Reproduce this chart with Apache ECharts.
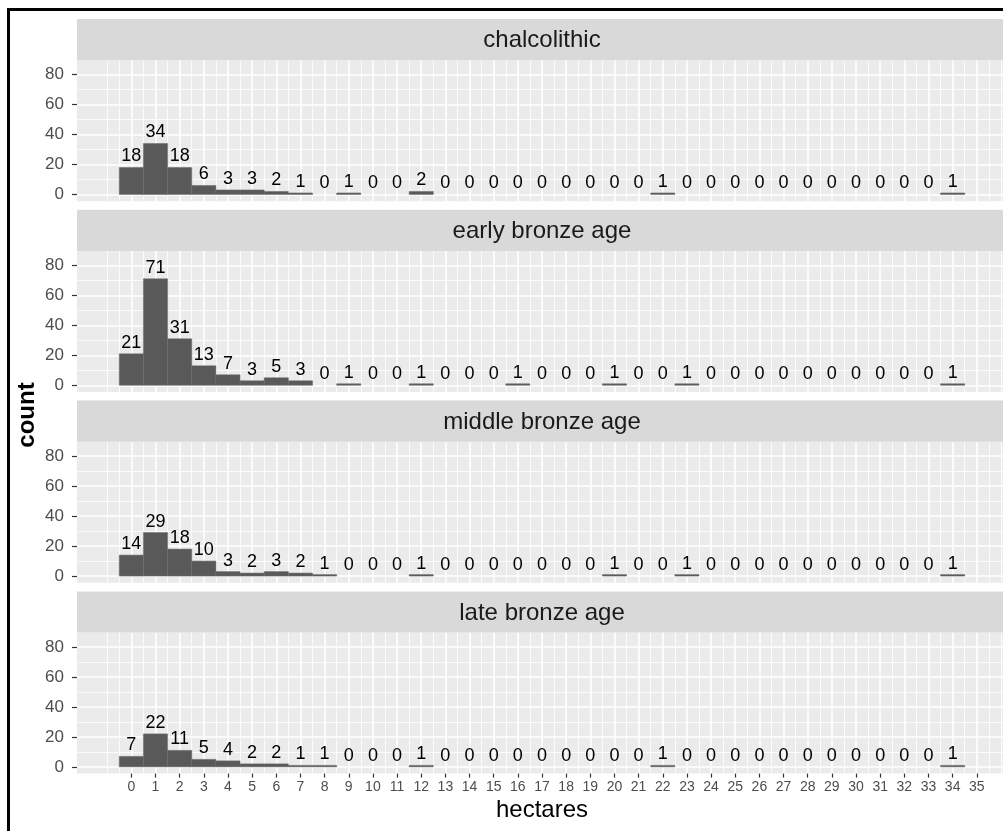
<!DOCTYPE html>
<html>
<head>
<meta charset="utf-8">
<script src="https://cdn.jsdelivr.net/npm/echarts@6/dist/echarts.min.js"></script>
<style>
html,body{margin:0;padding:0;background:#fff;}
#chart{width:1003px;height:831px;}
</style>
</head>
<body>
<div id="chart"></div>
<script>
// ---- data ----
const facets = ['chalcolithic', 'early bronze age', 'middle bronze age', 'late bronze age'];
const bins = [0,1,2,3,4,5,6,7,8,9,10,11,12,13,14,15,16,17,18,19,20,21,22,23,24,25,26,27,28,29,30,31,32,33,34];
const chalcolithic = [18,34,18,6,3,3,2,1,0,1,0,0,2,0,0,0,0,0,0,0,0,0,1,0,0,0,0,0,0,0,0,0,0,0,1];
const earlyBronzeAge = [21,71,31,13,7,3,5,3,0,1,0,0,1,0,0,0,1,0,0,0,1,0,0,1,0,0,0,0,0,0,0,0,0,0,1];
const middleBronzeAge = [14,29,18,10,3,2,3,2,1,0,0,0,1,0,0,0,0,0,0,0,1,0,0,1,0,0,0,0,0,0,0,0,0,0,1];
const lateBronzeAge = [7,22,11,5,4,2,2,1,1,0,0,0,1,0,0,0,0,0,0,0,0,0,1,0,0,0,0,0,0,0,0,0,0,0,1];
const xTickValues = [0,1,2,3,4,5,6,7,8,9,10,11,12,13,14,15,16,17,18,19,20,21,22,23,24,25,26,27,28,29,30,31,32,33,34,35];
const yTickValues = [0,20,40,60,80];
const xTitle = 'hectares';
const yTitle = 'count';

const seriesValues = [chalcolithic, earlyBronzeAge, middleBronzeAge, lateBronzeAge];

// ---- layout / style ----
const FONT = '"Liberation Sans", Arial, Helvetica, sans-serif';
const X_MIN = -2.25, X_MAX = 36.25;
const Y_MIN = -4.5, Y_MAX = 89.6;
const LEFT = 77, WIDTH = 930;
const STRIP_TOP0 = 19, PITCH = 190.8, STRIP_H = 41.2, PANEL_H = 141;

// minor grid positions (ggplot-style: midpoints plus one step beyond)
const xMinor = [];
{
  const ext = [xTickValues[0] - 1].concat(xTickValues, [xTickValues[xTickValues.length - 1] + 1]);
  for (let i = 0; i < ext.length - 1; i++) {
    const a = ext[i], b = ext[i + 1];
    if (!xTickValues.includes(a)) xMinor.push(a);
    xMinor.push((a + b) / 2);
  }
  const last = ext[ext.length - 1];
  if (!xTickValues.includes(last)) xMinor.push(last);
}
const yMinor = [];
for (let i = 0; i < yTickValues.length - 1; i++) yMinor.push((yTickValues[i] + yTickValues[i + 1]) / 2);

const chart = echarts.init(document.getElementById('chart'), null, {renderer: 'canvas'});

const grids = [], xAxes = [], yAxes = [], series = [], graphics = [];

facets.forEach((name, i) => {
  const stripTop = STRIP_TOP0 + PITCH * i;
  const panelTop = stripTop + STRIP_H;
  const isBottom = i === facets.length - 1;

  grids.push({
    left: LEFT, top: panelTop, width: WIDTH, height: PANEL_H,
    show: true, backgroundColor: '#EBEBEB', borderWidth: 0,
    containLabel: false, outerBoundsMode: 'none'
  });

  // main x axis: majors, ticks, labels
  xAxes.push({
    type: 'value', gridIndex: i, min: X_MIN, max: X_MAX, position: 'bottom',
    axisLine: {show: false, onZero: false},
    axisTick: {show: isBottom, customValues: xTickValues, length: 4, lineStyle: {color: '#333333', width: 1.2}},
    axisLabel: {show: isBottom, customValues: xTickValues, fontSize: 14, color: '#4D4D4D', fontFamily: FONT, margin: 7},
    splitLine: {show: true, lineStyle: {color: '#FFFFFF', width: 1.6}},
    name: isBottom ? xTitle : '', nameLocation: 'middle', nameGap: 25,
    nameTextStyle: {fontSize: 24, color: '#000000', fontFamily: FONT}
  });
  // minor x axis
  xAxes.push({
    type: 'value', gridIndex: i, min: X_MIN, max: X_MAX, position: 'bottom',
    axisLine: {show: false, onZero: false},
    axisTick: {show: false, customValues: xMinor},
    axisLabel: {show: false, customValues: xMinor},
    splitLine: {show: true, lineStyle: {color: '#FFFFFF', width: 0.8}}
  });

  yAxes.push({
    type: 'value', gridIndex: i, min: Y_MIN, max: Y_MAX, position: 'left',
    axisLine: {show: false, onZero: false},
    axisTick: {show: true, customValues: yTickValues, length: 5, lineStyle: {color: '#333333', width: 1.2}},
    axisLabel: {show: true, customValues: yTickValues, fontSize: 17, color: '#4D4D4D', fontFamily: FONT, margin: 13},
    splitLine: {show: true, lineStyle: {color: '#FFFFFF', width: 1.6}}
  });
  yAxes.push({
    type: 'value', gridIndex: i, min: Y_MIN, max: Y_MAX, position: 'left',
    axisLine: {show: false, onZero: false},
    axisTick: {show: false, customValues: yMinor},
    axisLabel: {show: false, customValues: yMinor},
    splitLine: {show: true, lineStyle: {color: '#FFFFFF', width: 0.8}}
  });

  const vals = seriesValues[i];
  series.push({
    type: 'custom',
    name: name,
    xAxisIndex: 2 * i,
    yAxisIndex: 2 * i,
    clip: false,
    data: bins.map((b, j) => [b, vals[j]]),
    renderItem: function (params, api) {
      const x = api.value(0), y = api.value(1);
      const p0 = api.coord([x - 0.5, 0]);
      const p1 = api.coord([x + 0.5, y]);
      const children = [];
      if (y > 0) {
        children.push({
          type: 'rect',
          shape: {x: p0[0], y: p1[1], width: p1[0] - p0[0], height: p0[1] - p1[1]},
          style: {fill: '#595959', stroke: '#6B6B6B', lineWidth: 0.5}
        });
      }
      const pc = api.coord([x, y]);
      children.push({
        type: 'text',
        style: {
          text: String(y), x: pc[0], y: pc[1] - 2,
          textAlign: 'center', textVerticalAlign: 'bottom',
          font: '18px ' + FONT, fill: '#000000'
        }
      });
      return {type: 'group', children: children};
    },
    z: 3
  });

  // facet strip
  graphics.push({
    type: 'rect', z: 1,
    shape: {x: LEFT, y: stripTop, width: WIDTH, height: STRIP_H},
    style: {fill: '#D9D9D9'}
  });
  graphics.push({
    type: 'text', z: 2,
    x: LEFT + WIDTH / 2, y: stripTop + STRIP_H / 2 + 1,
    style: {text: name, font: '24px ' + FONT, fill: '#1A1A1A', textAlign: 'center', textVerticalAlign: 'middle'}
  });
});

// y axis title
graphics.push({
  type: 'text', z: 2,
  x: 27, y: 415, rotation: Math.PI / 2,
  style: {text: yTitle, font: 'bold 24px ' + FONT, fill: '#000000', textAlign: 'center', textVerticalAlign: 'middle'}
});
// outer frame
graphics.push({
  type: 'rect', z: 10,
  shape: {x: 8.5, y: 9.5, width: 1200, height: 1000},
  style: {fill: 'none', stroke: '#000000', lineWidth: 3}
});

chart.setOption({
  animation: false,
  backgroundColor: '#FFFFFF',
  grid: grids,
  xAxis: xAxes,
  yAxis: yAxes,
  series: series,
  graphic: graphics
});
</script>
</body>
</html>
